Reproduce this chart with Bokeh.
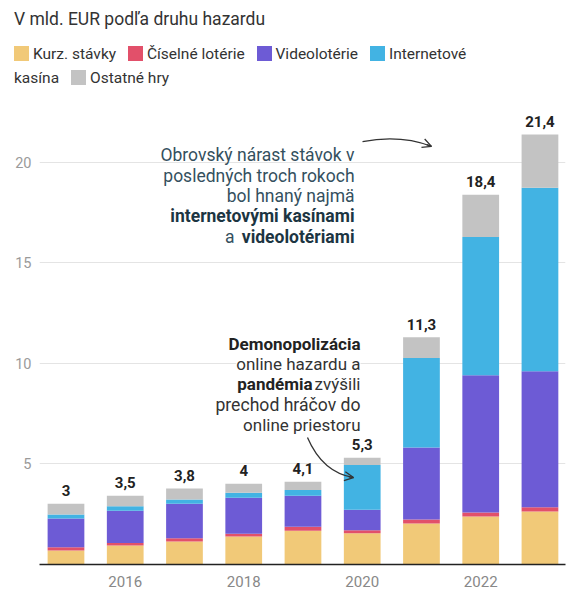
from bokeh.plotting import figure
from bokeh.models import ColumnDataSource, Range1d, FixedTicker, Label, Arrow, OpenHead, Div
from bokeh.layouts import column
from bokeh.core.properties import value
from bokeh.embed import file_html
from bokeh.resources import INLINE

# ---------------- data ----------------
title = "V mld. EUR podľa druhu hazardu"
years = [2015, 2016, 2017, 2018, 2019, 2020, 2021, 2022, 2023]
kurz = [0.69, 0.94, 1.14, 1.39, 1.68, 1.55, 2.04, 2.38, 2.64]
ciselne = [0.17, 0.13, 0.16, 0.14, 0.20, 0.15, 0.20, 0.21, 0.20]
video = [1.42, 1.60, 1.72, 1.79, 1.54, 1.02, 3.57, 6.82, 6.76]
internet = [0.20, 0.23, 0.21, 0.24, 0.28, 2.23, 4.45, 6.86, 9.12]
ostatne = [0.54, 0.52, 0.55, 0.45, 0.41, 0.36, 1.04, 2.11, 2.65]
total_labels = ["3", "3,5", "3,8", "4", "4,1", "5,3", "11,3", "18,4", "21,4"]

series_keys = ["kurz", "ciselne", "video", "internet", "ostatne"]
series_names = ["Kurz. stávky", "Číselné lotérie", "Videolotérie", "Internetové kasína", "Ostatné hry"]
colors = ["#f1c978", "#e2506a", "#6d5bd5", "#42b3e3", "#c3c3c3"]

xticks = [2016, 2018, 2020, 2022]
xtick_labels = ["2016", "2018", "2020", "2022"]
yticks = [5, 10, 15, 20]

FONT = "Roboto"

totals = [sum(v) for v in zip(kurz, ciselne, video, internet, ostatne)]

source = ColumnDataSource(dict(year=years, kurz=kurz, ciselne=ciselne, video=video,
                               internet=internet, ostatne=ostatne))
lab_source = ColumnDataSource(dict(x=years, y=totals, t=total_labels))


# ---------------- header (title + legend) ----------------
def legend_item(name, color):
    words = name.split(" ")
    spans = " ".join(
        f'<span style="{"margin-right:8px;" if i == len(words) - 1 else ""}">{w}</span>'
        for i, w in enumerate(words))
    return (f'<span style="display:inline-block;width:15px;height:15px;background:{color};'
            f'vertical-align:-2px;margin-right:4px;"></span>{spans}')


items = " ".join(legend_item(n, c) for n, c in zip(series_names, colors))
html = (f'<div style="font-family:{FONT},sans-serif;color:#333;padding-left:6px;width:490px;">'
        f'<div style="font-size:17.5px;line-height:22px;">{title}</div>'
        f'<div style="font-size:15.5px;line-height:24px;margin-top:11.5px;">{items}</div></div>')
header = Div(text=html, width=571, height=85, margin=(0, 0, 0, 0))

# ---------------- chart ----------------
p = figure(width=571, height=497, x_range=Range1d(2014.553, 2023.431), y_range=Range1d(0, 23.06),
           output_backend="svg", toolbar_location=None,
           min_border_left=31, min_border_right=14, min_border_top=7, min_border_bottom=26,
           margin=(0, 0, 0, 0))
p.outline_line_color = None
p.background_fill_color = "white"
p.border_fill_color = "white"

p.vbar_stack(series_keys, x="year", width=0.62, fill_color=colors, line_color=None, source=source)

p.text(x="x", y="y", text="t", source=lab_source, text_align="center", text_baseline="alphabetic",
       y_offset=-13, text_font=value(FONT), text_font_style="bold", text_font_size="15px",
       text_color="#222222")

p.xgrid.visible = False
p.ygrid.ticker = FixedTicker(ticks=yticks)
p.ygrid.grid_line_color = "#e4e4e4"
p.ygrid.grid_line_width = 1

p.yaxis.ticker = FixedTicker(ticks=yticks)
p.yaxis.axis_line_color = None
p.yaxis.major_tick_line_color = None
p.yaxis.minor_tick_line_color = None
p.yaxis.major_tick_out = 0
p.yaxis.major_tick_in = 0
p.yaxis.minor_tick_out = 0
p.yaxis.major_label_text_font = FONT
p.yaxis.major_label_text_font_size = "14.5px"
p.yaxis.major_label_text_color = "#9a9a9a"
p.yaxis.major_label_standoff = 8

p.xaxis.ticker = FixedTicker(ticks=xticks)
p.xaxis.major_label_overrides = {t: l for t, l in zip(xticks, xtick_labels)}
p.xaxis.axis_line_color = "#222222"
p.xaxis.axis_line_width = 1.3
p.xaxis.major_tick_line_color = None
p.xaxis.minor_tick_line_color = None
p.xaxis.major_tick_out = 0
p.xaxis.major_tick_in = 0
p.xaxis.minor_tick_out = 0
p.xaxis.major_label_text_font = FONT
p.xaxis.major_label_text_font_size = "15px"
p.xaxis.major_label_text_color = "#888888"
p.xaxis.major_label_standoff = 11


def add_label(x, y, text, color, size, bold=False, x_offset=0, bg=None):
    p.add_layout(Label(x=x, y=y, text=text, text_align="right", text_baseline="alphabetic",
                       text_font=FONT, text_font_size=size,
                       text_font_style="bold" if bold else "normal",
                       text_color=color, x_offset=x_offset,
                       background_fill_color=bg))


# annotation 1
R1 = 2019.87
c1, c1b = "#34505e", "#1c3542"
s1 = "17.5px"
add_label(R1, 20.33, "Obrovský nárast stávok v", c1, s1)
add_label(R1, 19.31, "posledných troch rokoch", c1, s1)
add_label(R1, 18.30, "bol hnaný najmä", c1, s1)
add_label(R1, 17.30, "internetovými kasínami", c1b, s1, bold=True)
add_label(R1, 16.28, "videolotériami", c1b, s1, bold=True)
add_label(R1, 16.28, "a", c1, s1, x_offset=-120)

# annotation 2
R2 = 2019.971
c2, c2b = "#333333", "#222222"
s2 = "17px"
add_label(R2, 10.98, "Demonopolizácia", c2b, s2, bold=True)
add_label(R2, 9.96, "online hazardu a", c2, s2, bg="white")
add_label(R2, 8.95, "zvýšili", c2, s2)
add_label(R2, 8.95, "pandémia", c2b, s2, bold=True, x_offset=-48)
add_label(R2, 7.93, "prechod hráčov do", c2, "17.6px")
add_label(R2, 6.91, "online priestoru", c2, s2)

# arrows
arr_x0 = [2020.005, 2019.076]
arr_y0 = [21.02, 6.31]
arr_cx = [2020.646, 2019.33]
arr_cy = [21.37, 4.57]
arr_x1 = [2021.169, 2019.853]
arr_y1 = [20.78, 4.32]
p.quadratic(x0=arr_x0, y0=arr_y0, x1=arr_x1, y1=arr_y1, cx=arr_cx, cy=arr_cy,
            line_color="#333333", line_width=1.3)
for x0, y0, cx, cy, x1, y1 in zip(arr_x0, arr_y0, arr_cx, arr_cy, arr_x1, arr_y1):
    f = 0.15
    p.add_layout(Arrow(end=OpenHead(size=9, line_color="#333333", line_width=1.3),
                       x_start=x1 - f * (x1 - cx), y_start=y1 - f * (y1 - cy),
                       x_end=x1, y_end=y1, line_color="#333333", line_width=1.3))

layout = column(header, p, spacing=0, margin=(8, 8, 8, 8))
with open("out.html", "w", encoding="utf-8") as fh:
    fh.write(file_html(layout, INLINE))
